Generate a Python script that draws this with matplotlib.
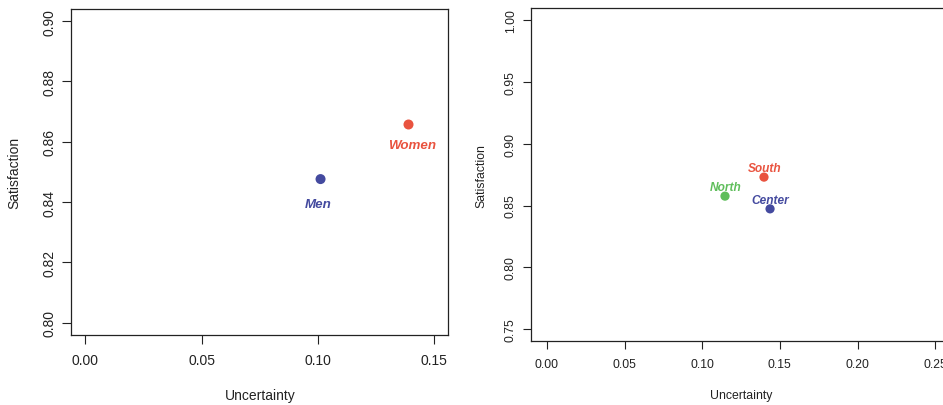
import matplotlib.pyplot as plt

plt.rcParams['font.family'] = ['Liberation Sans', 'DejaVu Sans']

# left panel: gender
gender_labels = ["Men", "Women"]
gender_uncert = [0.1011, 0.1389]
gender_satis = [0.8476, 0.8657]
gender_colors = ["#444a9f", "#e9533f"]
gender_xticks = [0.00, 0.05, 0.10, 0.15]
gender_yticks = [0.80, 0.82, 0.84, 0.86, 0.88, 0.90]

# right panel: region
region_labels = ["South", "North", "Center"]
region_uncert = [0.1398, 0.1147, 0.1437]
region_satis = [0.8730, 0.8576, 0.8473]
region_colors = ["#e9533f", "#5fbe5b", "#444a9f"]
region_xticks = [0.00, 0.05, 0.10, 0.15, 0.20, 0.25]
region_yticks = [0.75, 0.80, 0.85, 0.90, 0.95, 1.00]

W, H = 943, 406
fig = plt.figure(figsize=(W / 100, H / 100), dpi=100)


def px_axes(l, t, r, b):
    return fig.add_axes([l / W, 1 - b / H, (r - l) / W, (b - t) / H])


def r_lim(lo, hi):
    d = (hi - lo) * 0.04
    return lo - d, hi + d


def style(ax, xticks, yticks, fs, ticklen, xpad, ypad):
    ax.set_xlim(r_lim(xticks[0], xticks[-1]))
    ax.set_ylim(r_lim(yticks[0], yticks[-1]))
    ax.set_xticks(xticks)
    ax.set_yticks(yticks)
    ax.set_xticklabels([f"{v:.2f}" for v in xticks])
    ax.set_yticklabels([f"{v:.2f}" for v in yticks], rotation=90, va="center")
    ax.tick_params(axis="x", length=ticklen, width=0.8, pad=xpad, labelsize=fs, colors="#222222")
    ax.tick_params(axis="y", length=ticklen, width=0.8, pad=ypad, labelsize=fs, colors="#222222")
    for s in ax.spines.values():
        s.set_linewidth(0.9)
        s.set_color("#222222")


# left
ax1 = px_axes(71.3, 10, 448.3, 335.7)
style(ax1, gender_xticks, gender_yticks, 10, 6.5, 7, 4.3)
ax1.scatter(gender_uncert, gender_satis, s=52, c=gender_colors, zorder=3, linewidths=0)
offsets1 = {"Men": (-1.4, -18), "Women": (2.2, -14.4)}
for lab, x, y, c in zip(gender_labels, gender_uncert, gender_satis, gender_colors):
    ax1.annotate(lab, (x, y), xytext=offsets1[lab], textcoords="offset points",
                 ha="center", va="center", color=c, fontsize=9.6,
                 fontweight="bold", fontstyle="italic")
ax1.set_xlabel("Uncertainty", fontsize=10, color="#222222")
ax1.set_ylabel("Satisfaction", fontsize=10, color="#222222")
ax1.xaxis.set_label_coords(259.8 / W, 1 - 395.7 / H, transform=fig.transFigure)
ax1.yaxis.set_label_coords(14 / W, 1 - 172.8 / H, transform=fig.transFigure)
ax1.xaxis.label.set_va("center")
ax1.yaxis.label.set_va("center")

# right
ax2 = px_axes(531.3, 9, 950.7, 342.3)
style(ax2, region_xticks, region_yticks, 8.8, 6, 6, 4.3)
ax2.scatter(region_uncert, region_satis, s=44, c=region_colors, zorder=3, linewidths=0)
offsets2 = {"South": (0.2, 6.8), "North": (0.4, 6.8), "Center": (0, 6.4)}
for lab, x, y, c in zip(region_labels, region_uncert, region_satis, region_colors):
    ax2.annotate(lab, (x, y), xytext=offsets2[lab], textcoords="offset points",
                 ha="center", va="center", color=c, fontsize=8.6,
                 fontweight="bold", fontstyle="italic")
ax2.set_xlabel("Uncertainty", fontsize=8.8, color="#222222")
ax2.set_ylabel("Satisfaction", fontsize=8.8, color="#222222")
ax2.xaxis.set_label_coords(741.5 / W, 1 - 396 / H, transform=fig.transFigure)
ax2.yaxis.set_label_coords(481 / W, 1 - 175.7 / H, transform=fig.transFigure)
ax2.xaxis.label.set_va("center")
ax2.yaxis.label.set_va("center")

fig.savefig("out.png", dpi=100)
